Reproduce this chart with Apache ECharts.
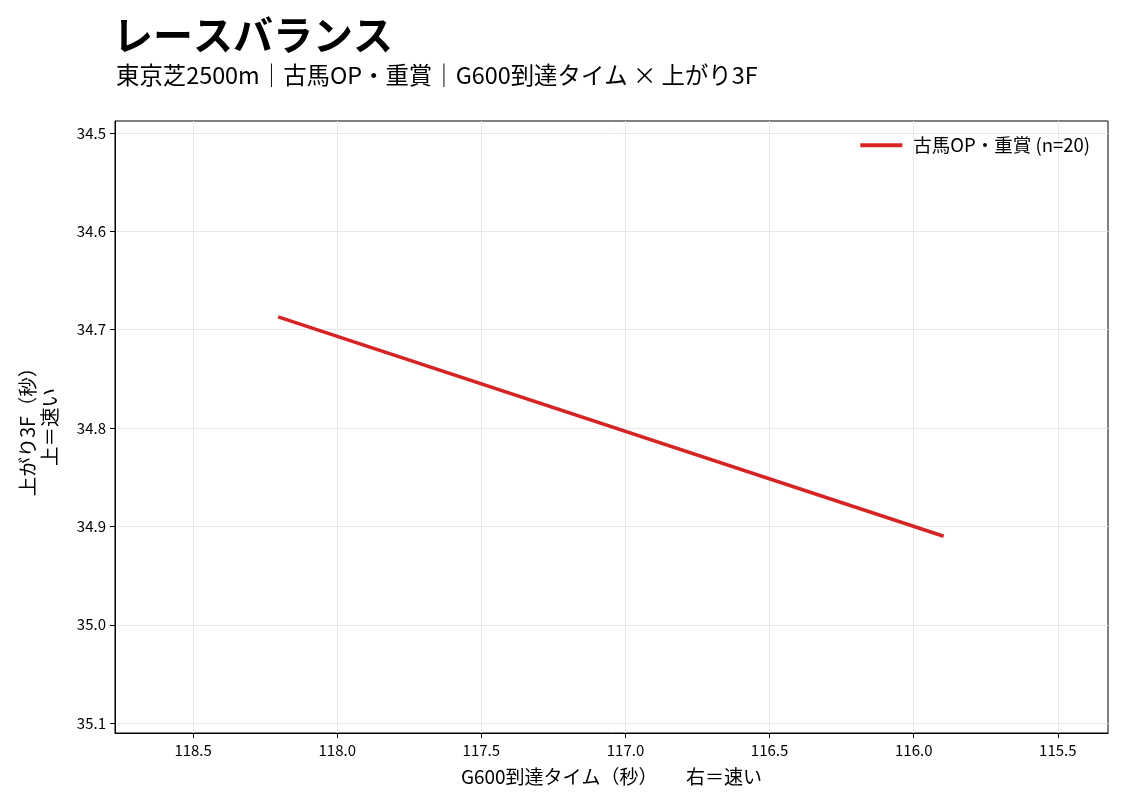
<!DOCTYPE html>
<html>
<head>
<meta charset="utf-8">
<script src="https://cdn.jsdelivr.net/npm/echarts@6/dist/echarts.min.js"></script>
<style>
  html, body { margin: 0; padding: 0; background: #fff; }
  #main { width: 1125px; height: 807px; }
</style>
</head>
<body>
<div id="main"></div>
<script>
// データ
var seriesName = '古馬OP・重賞 (n=20)';
var g600 = [118.205, 115.896];     // G600到達タイム（秒）
var agari3f = [34.687, 34.910];    // 上がり3F（秒）
var xTicks = [118.5, 118.0, 117.5, 117.0, 116.5, 116.0, 115.5];
var yTicks = [34.5, 34.6, 34.7, 34.8, 34.9, 35.0, 35.1];

var FONT = '"Noto Sans CJK JP", "Noto Sans", sans-serif';

var chart = echarts.init(document.getElementById('main'));

chart.setOption({
  backgroundColor: '#fff',
  animation: false,
  title: [{
    text: 'レースバランス',
    left: 108,
    top: 10,
    textStyle: { fontFamily: FONT, fontSize: 40, fontWeight: 'bold', color: '#000' }
  }, {
    text: '東京芝2500m｜古馬OP・重賞｜G600到達タイム × 上がり3F',
    left: 111,
    top: 58,
    textStyle: { fontFamily: FONT, fontSize: 23.4, fontWeight: 'normal', color: '#000' }
  }],
  legend: {
    right: 30,
    top: 131,
    itemWidth: 42,
    itemHeight: 4,
    icon: 'rect',
    textStyle: { fontFamily: FONT, fontSize: 18.5, color: '#000', padding: [0, 0, 0, 6] },
    data: [seriesName]
  },
  grid: {
    left: 115,
    right: 17,
    top: 121,
    bottom: 74,
    show: true,
    borderColor: '#000',
    borderWidth: 1
  },
  xAxis: {
    type: 'value',
    inverse: true,
    min: 115.326,
    max: 118.771,
    name: 'G600到達タイム（秒）　　右＝速い',
    nameLocation: 'middle',
    nameGap: 34,
    nameTextStyle: { fontFamily: FONT, fontSize: 19, color: '#000' },
    axisLine: { show: true, lineStyle: { color: '#000', width: 1 } },
    axisTick: { show: true, length: 5, customValues: xTicks, lineStyle: { color: '#000' } },
    axisLabel: {
      customValues: xTicks,
      fontFamily: FONT, fontSize: 15, color: '#000', margin: 10,
      formatter: function (v) { return v.toFixed(1); }
    },
    splitLine: { show: true, lineStyle: { color: '#e8e8e8', width: 1 } }
  },
  yAxis: {
    type: 'value',
    inverse: true,
    min: 34.488,
    max: 35.110,
    name: '上がり3F（秒）\n上＝速い',
    nameLocation: 'middle',
    nameGap: 54,
    nameRotate: 90,
    nameTextStyle: { fontFamily: FONT, fontSize: 19.5, color: '#000', lineHeight: 22, align: 'center' },
    axisLine: { show: true, lineStyle: { color: '#000', width: 1 } },
    axisTick: { show: true, length: 5, customValues: yTicks, lineStyle: { color: '#000' } },
    axisLabel: {
      customValues: yTicks,
      fontFamily: FONT, fontSize: 15, color: '#000', margin: 9,
      formatter: function (v) { return v.toFixed(1); }
    },
    splitLine: { show: true, lineStyle: { color: '#e8e8e8', width: 1 } }
  },
  series: [{
    name: seriesName,
    type: 'line',
    showSymbol: false,
    symbol: 'none',
    lineStyle: { color: '#d62424', width: 3.5 },
    itemStyle: { color: '#d62424' },
    data: g600.map(function (x, i) { return [x, agari3f[i]]; })
  }]
});
</script>
</body>
</html>
